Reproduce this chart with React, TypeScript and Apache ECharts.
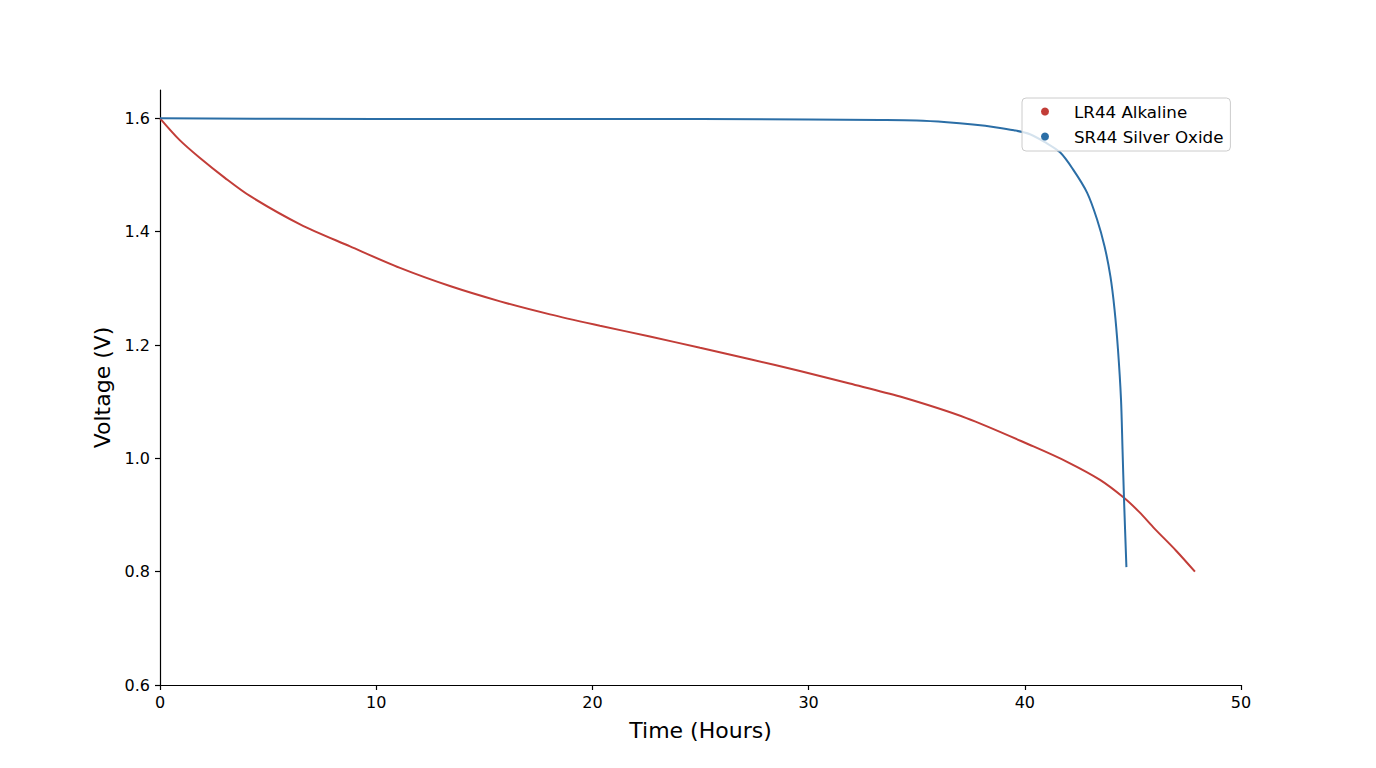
import React, { useEffect, useRef } from "react";
import * as echarts from "echarts";

const seriesNames = ["LR44 Alkaline", "SR44 Silver Oxide"];
const seriesColors = ["#c23d38", "#2b6ea6"];

const lr44Hours = [0, 0.9, 1.85, 3.0, 4.16, 6.48, 8.79, 11.1, 13.41, 15.73, 18.04, 20.35, 22.66, 24.98, 27.3, 29.6, 31.9, 34.23, 37.3, 40.4, 42.0, 43.48, 44.6, 45.3, 46.0, 47.0, 47.87];
const lr44Volts = [1.6, 1.562, 1.53, 1.495, 1.463, 1.413, 1.374, 1.336, 1.304, 1.277, 1.254, 1.234, 1.215, 1.195, 1.175, 1.154, 1.132, 1.109, 1.071, 1.021, 0.993, 0.962, 0.93, 0.905, 0.876, 0.837, 0.8];

const sr44Hours = [0, 10, 20, 30, 33.3, 35, 36.4, 37.6, 38.7, 39.5, 40.24, 40.93, 41.63, 42.23, 42.88, 43.34, 43.69, 43.96, 44.15, 44.31, 44.45, 44.52, 44.59, 44.7];
const sr44Volts = [1.6, 1.599, 1.599, 1.598, 1.597, 1.596, 1.593, 1.589, 1.584, 1.579, 1.572, 1.558, 1.54, 1.51, 1.469, 1.422, 1.374, 1.321, 1.263, 1.192, 1.104, 1.016, 0.927, 0.808];

const xTicks = [0, 10, 20, 30, 40, 50];
const yTicks = [0.6, 0.8, 1.0, 1.2, 1.4, 1.6];

const FONT = "DejaVu Sans";

export default function App() {
  const ref = useRef<HTMLDivElement>(null);
  useEffect(() => {
    if (!ref.current) return;
    const chart = echarts.init(ref.current, null, { renderer: "svg" });
    const toPairs = (xs: number[], ys: number[]) => xs.map((x, i) => [x, ys[i]]);
    chart.setOption({
      animation: false,
      backgroundColor: "#ffffff",
      textStyle: { fontFamily: FONT },
      grid: { left: 152, right: 127, top: 82, bottom: 75, containLabel: false },
      legend: {
        show: true,
        orient: "vertical",
        left: 1014,
        top: 90,
        align: "left",
        icon: "circle",
        itemWidth: 8,
        itemHeight: 8,
        itemGap: 8,
        padding: [5, 7, 6, 19],
        backgroundColor: "rgba(255,255,255,0.8)",
        borderColor: "#cccccc",
        borderWidth: 1,
        borderRadius: 4,
        textStyle: {
          fontFamily: FONT,
          fontSize: 16.7,
          color: "#000",
          padding: [0, 0, 0, 20],
        },
        data: seriesNames,
      },
      xAxis: {
        type: "value",
        min: 0,
        max: 50,
        interval: 10,
        name: "Time (Hours)",
        nameLocation: "middle",
        nameGap: 34,
        nameTextStyle: { fontFamily: FONT, fontSize: 22, color: "#000" },
        splitLine: { show: false },
        axisLine: { show: true, onZero: false, lineStyle: { color: "#000", width: 1.2 } },
        axisTick: { show: true, inside: false, length: 5, lineStyle: { color: "#000", width: 1.2 } },
        axisLabel: {
          margin: 9,
          fontFamily: FONT,
          fontSize: 16,
          color: "#000",
          customValues: xTicks,
        },
      },
      yAxis: {
        type: "value",
        min: 0.6,
        max: 1.65,
        interval: 0.2,
        name: "Voltage (V)",
        nameLocation: "middle",
        nameGap: 45,
        nameTextStyle: { fontFamily: FONT, fontSize: 22, color: "#000" },
        splitLine: { show: false },
        axisLine: { show: true, onZero: false, lineStyle: { color: "#000", width: 1.2 } },
        axisTick: {
          show: true,
          inside: false,
          length: 5,
          lineStyle: { color: "#000", width: 1.2 },
          customValues: yTicks,
        },
        axisLabel: {
          margin: 10,
          fontFamily: FONT,
          fontSize: 16,
          color: "#000",
          customValues: yTicks,
          formatter: (v: number) => v.toFixed(1),
        },
      },
      series: [
        {
          name: seriesNames[0],
          type: "line",
          data: toPairs(lr44Hours, lr44Volts),
          showSymbol: false,
          symbol: "circle",
          smooth: 0.3,
          itemStyle: { color: seriesColors[0] },
          lineStyle: { color: seriesColors[0], width: 2 },
          z: 2,
        },
        {
          name: seriesNames[1],
          type: "line",
          data: toPairs(sr44Hours, sr44Volts),
          showSymbol: false,
          symbol: "circle",
          smooth: 0.3,
          itemStyle: { color: seriesColors[1] },
          lineStyle: { color: seriesColors[1], width: 2 },
          z: 3,
        },
      ],
    });
    return () => chart.dispose();
  }, []);
  return <div ref={ref} style={{ width: 1360, height: 752 }} />;
}
